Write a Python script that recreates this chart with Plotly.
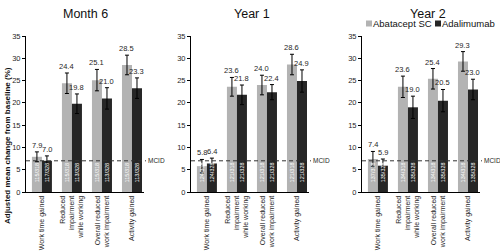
import plotly.graph_objects as go

# ---------------- data ----------------
panel_titles = ["Month 6", "Year 1", "Year 2"]
categories = ["Work time gained", "Reduced<br>impairment<br>while working",
              "Overall reduced<br>work impairment", "Activity gained"]
series_names = ["Abatacept SC", "Adalimumab"]

abatacept_m6 = [7.9, 24.4, 25.1, 28.5]
adalimumab_m6 = [7.0, 19.8, 21.0, 23.3]
abatacept_y1 = [5.8, 23.6, 24.0, 28.6]
adalimumab_y1 = [6.4, 21.8, 22.4, 24.9]
abatacept_y2 = [7.4, 23.6, 25.4, 29.3]
adalimumab_y2 = [5.9, 19.0, 20.5, 23.0]

abatacept_m6_err = [1.1, 2.3, 2.4, 2.2]
adalimumab_m6_err = [1.1, 2.2, 2.4, 2.3]
abatacept_y1_err = [1.5, 2.1, 2.2, 2.3]
adalimumab_y1_err = [1.2, 2.2, 1.7, 2.5]
abatacept_y2_err = [1.7, 2.4, 2.3, 2.2]
adalimumab_y2_err = [1.5, 2.5, 2.5, 2.3]

abatacept_m6_n = ["115/318", "115/318", "115/318", "115/318"]
adalimumab_m6_n = ["117/328", "113/328", "113/328", "113/328"]
abatacept_y1_n = ["124/318", "121/318", "121/318", "121/318"]
adalimumab_y1_n = ["124/328", "121/328", "121/328", "121/328"]
abatacept_y2_n = ["137/318", "134/318", "134/318", "134/318"]
adalimumab_y2_n = ["135/328", "135/328", "135/328", "135/328"]

mcid = 7
y_ticks = [0, 5, 10, 15, 20, 25, 30, 35]

# ---------------- styling ----------------
W, H = 500, 252
FONT = "Liberation Sans, Arial, sans-serif"
LIGHT = "#b3b3b3"
DARK = "#262626"
TXT = "#262626"

panels = [
    (abatacept_m6, adalimumab_m6, abatacept_m6_err, adalimumab_m6_err, abatacept_m6_n, adalimumab_m6_n),
    (abatacept_y1, adalimumab_y1, abatacept_y1_err, adalimumab_y1_err, abatacept_y1_n, adalimumab_y1_n),
    (abatacept_y2, adalimumab_y2, abatacept_y2_err, adalimumab_y2_err, abatacept_y2_n, adalimumab_y2_n),
]
domains_px = [(26, 144), (191, 309), (362, 480)]
title_cx = [85, 252, 428]
y_dom = [(H - 192) / H, (H - 36) / H]
xr = [-0.53, 3.4]
off = 1 / 6

fig = go.Figure()
annotations = []
shapes = []
axes = {}
xs = list(range(len(categories)))

for p, (a, d, ae, de, an, dn) in enumerate(panels):
    xa = "x" if p == 0 else f"x{p+1}"
    ya = "y" if p == 0 else f"y{p+1}"
    x0, x1 = domains_px[p]
    for vals, errs, col, name in [(a, ae, LIGHT, series_names[0]), (d, de, DARK, series_names[1])]:
        fig.add_trace(go.Bar(
            x=xs, y=vals, name=name, marker=dict(color=col, line=dict(width=0)),
            error_y=dict(type="data", array=errs, color="#000000", thickness=1, width=2),
            showlegend=False, xaxis=xa, yaxis=ya, hoverinfo="skip",
        ))
    for i in xs:
        for sgn, vals, errs, ns in [(-1, a, ae, an), (1, d, de, dn)]:
            annotations.append(dict(
                x=i + sgn * off, y=vals[i] + errs[i], xref=xa, yref=ya,
                text=f"{vals[i]:.1f}", showarrow=False, xanchor="center", yanchor="bottom",
                font=dict(family=FONT, size=7.5, color=TXT)))
            annotations.append(dict(
                x=i + sgn * off, y=4.4, xref=xa, yref=ya, text=ns[i], showarrow=False,
                xanchor="center", yanchor="middle",
                textangle=-90, font=dict(family=FONT, size=5.5, color="#ffffff")))
    # MCID reference line (slightly beyond the plot area) + label
    shapes.append(dict(type="line", xref="paper", yref=ya, x0=x0 / W, x1=(x1 + 2) / W,
                       y0=mcid, y1=mcid, layer="above",
                       line=dict(color="#333333", width=1, dash="4px,3px")))
    annotations.append(dict(x=(x1 + 2.5) / W, y=mcid, xref="paper", yref=ya, text="MCID",
                            showarrow=False, xanchor="left", yanchor="middle", borderpad=0,
                            font=dict(family=FONT, size=6.5, color=TXT)))
    annotations.append(dict(x=title_cx[p] / W, y=(H - 13.5) / H, xref="paper", yref="paper",
                            text=panel_titles[p], showarrow=False, borderpad=0,
                            xanchor="center", yanchor="middle",
                            font=dict(family=FONT, size=12.5, color="#111111")))

    xname = "xaxis" if p == 0 else f"xaxis{p+1}"
    yname = "yaxis" if p == 0 else f"yaxis{p+1}"
    axes[xname] = dict(
        domain=[x0 / W, x1 / W], range=xr, tickmode="array", tickvals=xs, ticktext=categories,
        tickangle=-90, ticks="", anchor=ya, automargin=False, fixedrange=True,
        showline=True, linecolor="#000000", linewidth=1, showgrid=False, zeroline=False,
        tickfont=dict(family=FONT, size=7, color=TXT))
    axes[yname] = dict(
        domain=y_dom, range=[0, 35], tickmode="array", tickvals=y_ticks, anchor=xa,
        ticks="outside", ticklen=3, tickwidth=1, tickcolor="#000000", automargin=False,
        fixedrange=True,
        showline=True, linecolor="#000000", linewidth=1, showgrid=False, zeroline=False,
        showticklabels=True, tickfont=dict(family=FONT, size=7.5, color=TXT))

annotations.append(dict(x=8 / W, y=(H - 146) / H, xref="paper", yref="paper",
                        text="<b>Adjusted mean change from baseline (%)</b>", showarrow=False,
                        xanchor="center", yanchor="middle",
                        textangle=-90, font=dict(family=FONT, size=8, color="#111111")))

leg_y = 23.5
for sx, col, name in [(366, LIGHT, series_names[0]), (435, DARK, series_names[1])]:
    shapes.append(dict(type="rect", xref="paper", yref="paper",
                       x0=sx / W, x1=(sx + 6) / W, y0=(H - leg_y - 3) / H, y1=(H - leg_y + 3) / H,
                       fillcolor=col, line=dict(width=0)))
    annotations.append(dict(x=(sx + 6) / W, y=(H - leg_y) / H, xref="paper", yref="paper",
                            text=name, showarrow=False, xanchor="left", yanchor="middle",
                            borderpad=0, font=dict(family=FONT, size=9.5, color="#111111")))

fig.update_layout(
    width=W, height=H, margin=dict(l=0, r=0, t=0, b=0, pad=0),
    paper_bgcolor="#ffffff", plot_bgcolor="#ffffff",
    barmode="group", bargap=1 / 3, bargroupgap=0,
    annotations=annotations, shapes=shapes, showlegend=False,
    **axes,
)

fig.write_html("out.html", config={"displayModeBar": False, "staticPlot": True},
               post_script="document.body.style.margin='0';document.body.style.padding='0';")
